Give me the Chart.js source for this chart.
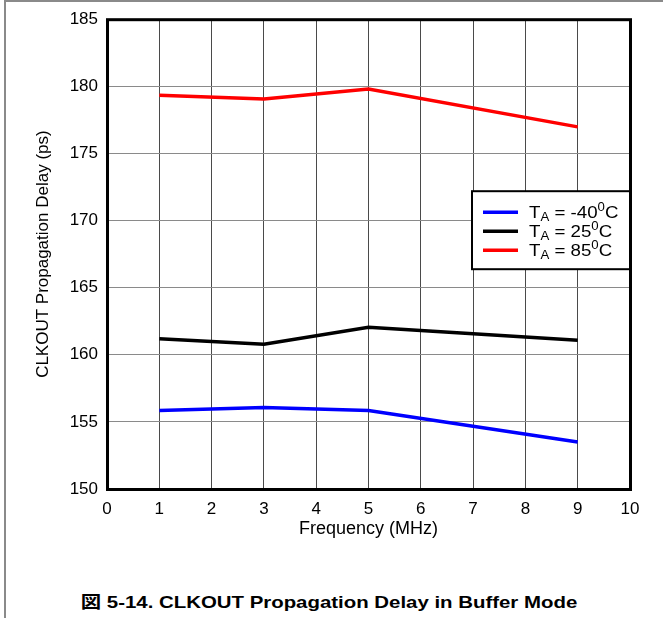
<!DOCTYPE html>
<html><head><meta charset="utf-8">
<script src="https://cdn.jsdelivr.net/npm/chart.js@4/dist/chart.umd.min.js"></script>
<style>
html,body{margin:0;padding:0;background:#fff;width:663px;height:618px;overflow:hidden;}
#frame{position:absolute;left:4px;top:0;width:700px;height:700px;border-left:2px solid #8a8a8a;border-top:2px solid #8a8a8a;}
#c{position:absolute;left:0;top:0;}
#cap{position:absolute;left:0;top:590px;width:658px;text-align:center;font:bold 17px "Liberation Sans","Noto Sans CJK JP",sans-serif;transform:scaleX(1.2);transform-origin:329px 50%;white-space:nowrap;line-height:26px;color:#000}
</style></head>
<body>
<div id="frame"></div>
<canvas id="c" width="663" height="550"></canvas>
<div id="cap">図 5-14. CLKOUT Propagation Delay in Buffer Mode</div>
<script>
// ---- data ----
const frequencies = [1, 3, 5, 9];
const delayMinus40C = [155.85, 156.08, 155.85, 153.5];
const delay25C = [161.2, 160.78, 162.05, 161.08];
const delay85C = [179.33, 179.05, 179.8, 176.98];
const seriesTemps = ['-40', '25', '85'];
const seriesColors = ['#0000ff', '#000000', '#ff0000'];
const xTicks = [0,1,2,3,4,5,6,7,8,9,10];
const yTicks = [150,155,160,165,170,175,180,185];
const xTitle = 'Frequency (MHz)';
const yTitle = 'CLKOUT Propagation Delay (ps)';

const FONT = '"Liberation Sans", Arial, sans-serif';
const series = [delayMinus40C, delay25C, delay85C];

const datasets = series.map((vals, i) => ({
  label: 'TA = ' + seriesTemps[i] + '0C',
  data: frequencies.map((f, j) => ({x: f, y: vals[j]})),
  borderColor: seriesColors[i],
  backgroundColor: seriesColors[i],
  borderWidth: 3.5,
  pointRadius: 0,
  tension: 0,
  fill: false
}));

const framePlugin = {
  id: 'frameLegend',
  afterDatasetsDraw(chart) {
    const {ctx, chartArea: a} = chart;
    ctx.save();
    ctx.strokeStyle = '#000';
    ctx.lineWidth = 3;
    ctx.strokeRect(a.left + 0.5, a.top + 0.5, a.right - a.left, a.bottom - a.top);
    // legend box
    const lw = 158, lh = 78;
    const lx = a.right - lw, ly = a.top + 172;
    ctx.fillStyle = '#fff';
    ctx.fillRect(lx, ly, lw, lh);
    ctx.lineWidth = 2;
    ctx.strokeRect(lx, ly, lw, lh);
    ctx.textBaseline = 'alphabetic';
    ctx.textAlign = 'left';
    seriesTemps.forEach((t, i) => {
      const by = ly + 27 + i * 19;
      ctx.strokeStyle = seriesColors[i];
      ctx.lineWidth = 3.5;
      ctx.beginPath();
      ctx.moveTo(lx + 11, by - 6);
      ctx.lineTo(lx + 46, by - 6);
      ctx.stroke();
      ctx.save();
      ctx.translate(lx + 57, by);
      ctx.scale(1.1, 1);
      ctx.fillStyle = '#000';
      let x = 0;
      const piece = (txt, size, dy) => {
        ctx.font = size + 'px ' + FONT;
        ctx.fillText(txt, x, dy);
        x += ctx.measureText(txt).width;
      };
      piece('T', 17, 0);
      piece('A', 12, 3);
      piece(' = ' + t, 17, 0);
      piece('0', 12, -7);
      piece('C', 17, 0);
      ctx.restore();
    });
    ctx.restore();
  }
};

new Chart(document.getElementById('c'), {
  type: 'line',
  data: { datasets },
  plugins: [framePlugin],
  options: {
    responsive: false,
    animation: false,
    devicePixelRatio: 1,
    layout: { padding: { left: 0, right: 33, top: 18, bottom: 0 } },
    plugins: { legend: { display: false }, tooltip: { enabled: false } },
    scales: {
      x: {
        type: 'linear', min: 0, max: 10,
        afterBuildTicks: s => { s.ticks = xTicks.map(v => ({value: v})); },
        afterFit: s => { s.height = 61; },
        grid: { color: '#4a4a4a', lineWidth: 1, drawTicks: false },
        border: { display: false },
        ticks: { color: '#000', font: { family: FONT, size: 17 }, padding: 10, maxRotation: 0 },
        title: { display: true, text: xTitle, color: '#000', font: { family: FONT, size: 18 }, padding: { top: 0, bottom: 10 } }
      },
      y: {
        type: 'linear', min: 150, max: 185,
        afterBuildTicks: s => { s.ticks = yTicks.map(v => ({value: v})); },
        afterFit: s => { s.width = 107; },
        grid: { color: '#8a8a8a', lineWidth: 1, drawTicks: false },
        border: { display: false },
        ticks: { color: '#000', font: { family: FONT, size: 17 }, padding: 9 },
        title: { display: true, text: yTitle, color: '#000', font: { family: FONT, size: 17 }, padding: { top: 33, bottom: 0 } }
      }
    }
  }
});
</script>
</body></html>
